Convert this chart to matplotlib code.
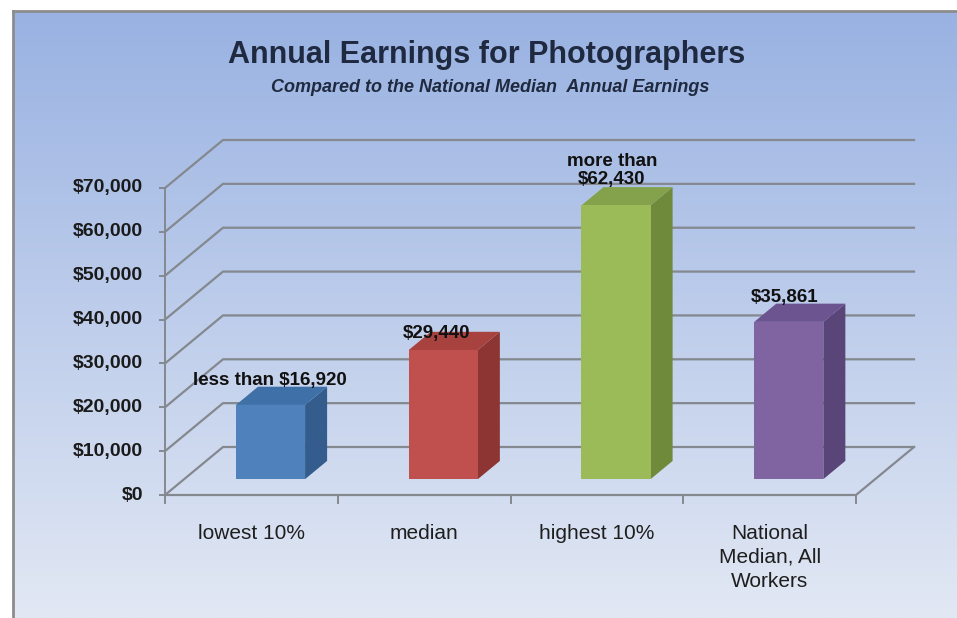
import numpy as np
import matplotlib
matplotlib.use('Agg')
import matplotlib.pyplot as plt
from matplotlib.patches import Polygon

plt.rcParams['font.family'] = ['Liberation Sans', 'DejaVu Sans']

categories = ['lowest 10%', 'median', 'highest 10%', 'National\nMedian, All\nWorkers']
earnings = [16920, 29440, 62430, 35861]
value_labels = ['less than $16,920', '$29,440', 'more than\n$62,430', '$35,861']
y_ticks = list(range(0, 70001, 10000))
y_tick_labels = ['$' + format(v, ',') for v in y_ticks]

front_colors = ['#4f81bd', '#c0504d', '#9bbb59', '#8064a2']
side_colors = ['#345c8c', '#8c3532', '#6e8a3a', '#5a4578']
top_colors = ['#4070a8', '#a8423f', '#84a24b', '#6c5491']
grid_c = '#84888f'

W, H = 957, 618
fig = plt.figure(figsize=(W / 100, H / 100), dpi=100)

# background panel with vertical gradient
bg = fig.add_axes([13 / W, 0, 1 - 13 / W, (H - 11) / H])
t = np.linspace(0, 1, 256)[:, None, None]
c_top = np.array([153, 178, 226]) / 255
c_bot = np.array([226, 232, 244]) / 255
bg.imshow(c_top + (c_bot - c_top) * t, aspect='auto', extent=[0, 1, 0, 1])
bg.set_xticks([])
bg.set_yticks([])
for side in ['right', 'bottom']:
    bg.spines[side].set_visible(False)
for side in ['left', 'top']:
    bg.spines[side].set_color('#8c8c8c')
    bg.spines[side].set_linewidth(2)

# main axes in pixel-matched data units
ax = fig.add_axes([0, 0, 1, 1])
ax.patch.set_alpha(0)
ax.axis('off')
px_cat = 172.75
px_val = 307 / 70000
x0, y0 = 165, H - 495
ax.set_xlim(-x0 / px_cat, (W - x0) / px_cat)
ax.set_ylim(-y0 / px_val, (H - y0) / px_val)

DX = 58 / px_cat
DY = 48 / px_val
n = len(categories)


def P(x, v, d):
    return (x + d * DX, v + d * DY)


# walls and floor
for v in y_ticks:
    pts = [P(0, v, 0), P(0, v, 1), P(n, v, 1)]
    ax.plot(*zip(*pts), color=grid_c, lw=1.6, zorder=1)
ax.plot(*zip(P(0, 0, 0), P(n, 0, 0), P(n, 0, 1)), color=grid_c, lw=1.6, zorder=1)
ax.plot(*zip(P(0, 0, 0), P(0, y_ticks[-1], 0)), color=grid_c, lw=1.4, zorder=1)

# tick marks and labels
for v, lab in zip(y_ticks, y_tick_labels):
    ax.plot([-5 / px_cat, 0], [v, v], color=grid_c, lw=1.4)
    ax.text(-22 / px_cat, v, lab, ha='right', va='center', fontsize=14,
            fontweight='bold', color='#1a1a1a')
for i in range(n + 1):
    ax.plot([i, i], [0, -8 / px_val], color=grid_c, lw=1.4)
for i, cat in enumerate(categories):
    ax.text(i + 0.5, -29 / px_val, cat, ha='center', va='top', fontsize=15,
            color='#1e1e1e', linespacing=1.32)

# 3d bars
d_front, d_back, half_w = 0.33, 0.71, 0.2
label_offsets = [(-1, 24), (-7, 17), (-4, 35), (-4, 24)]
for i, v in enumerate(earnings):
    xl, xr = i + 0.5 - half_w, i + 0.5 + half_w
    front = [P(xl, 0, d_front), P(xr, 0, d_front), P(xr, v, d_front), P(xl, v, d_front)]
    side = [P(xr, 0, d_front), P(xr, 0, d_back), P(xr, v, d_back), P(xr, v, d_front)]
    top = [P(xl, v, d_front), P(xr, v, d_front), P(xr, v, d_back), P(xl, v, d_back)]
    ax.add_patch(Polygon(side, closed=True, fc=side_colors[i], ec='none', zorder=3))
    ax.add_patch(Polygon(top, closed=True, fc=top_colors[i], ec='none', zorder=3))
    ax.add_patch(Polygon(front, closed=True, fc=front_colors[i], ec='none', zorder=4))
    ax.annotate(value_labels[i], xy=P(i + 0.5, v, d_front), xytext=label_offsets[i],
                textcoords='offset pixels', ha='center', va='center', fontsize=13.5,
                fontweight='bold', color='#111111', linespacing=1.05, zorder=5)

fig.text(487 / W, 1 - 55 / H, 'Annual Earnings for Photographers', ha='center',
         va='center', fontsize=22, fontweight='bold', color='#1f2940')
fig.text(490 / W, 1 - 87 / H, 'Compared to the National Median  Annual Earnings',
         ha='center', va='center', fontsize=13, fontweight='bold', style='italic',
         color='#1f2940')

fig.savefig('out.png', dpi=100)
